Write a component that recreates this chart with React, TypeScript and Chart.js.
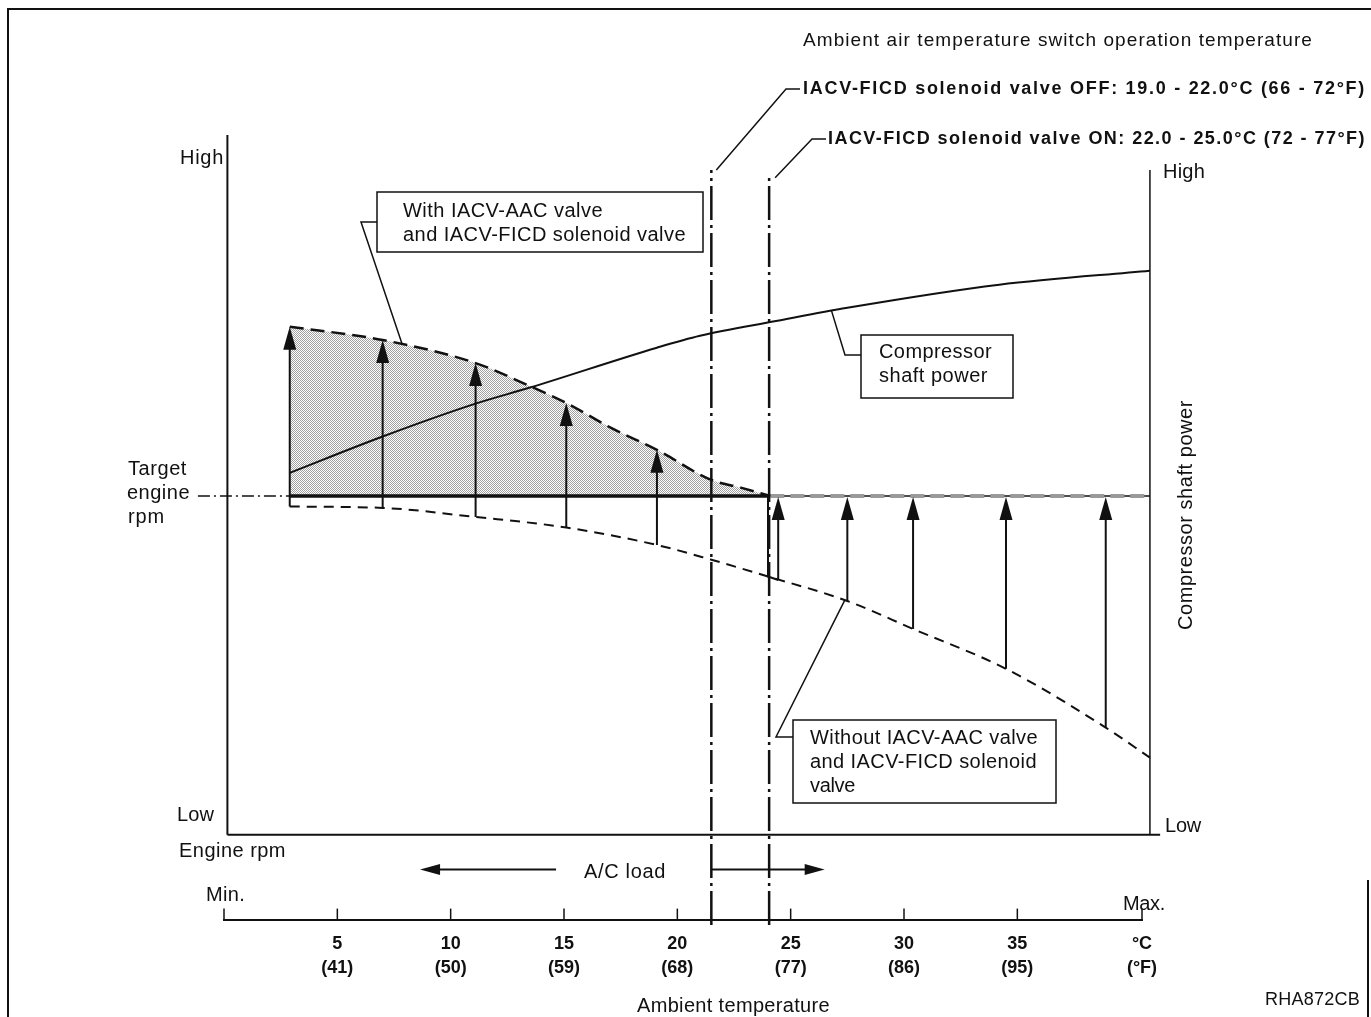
import React, { useEffect, useRef } from "react";
import { Chart, registerables } from "chart.js";

Chart.register(...registerables);

// ---------------- data ----------------
const tempTicks = [0, 5, 10, 15, 20, 25, 30, 35, 40.5];
const celsiusLabels = ["", "5", "10", "15", "20", "25", "30", "35", "°C"];
const fahrenheitLabels = ["", "(41)", "(50)", "(59)", "(68)", "(77)", "(86)", "(95)", "(°F)"];

const rpmLow = 0;
const rpmHigh = 100;
const targetRpm = 48.4;

const withValveTemps = [2.9, 7.0, 11.1, 13.5, 15.1, 17.1, 19.1, 21.5, 22.8, 24.1];
const withValveRpm = [72.6, 70.7, 67.4, 64.1, 61.7, 58.1, 55.0, 50.7, 49.6, 48.4];

const withoutValveTemps = [2.9, 7.0, 11.1, 15.1, 19.1, 21.5, 24.0, 27.5, 30.4, 34.5, 38.9, 40.85];
const withoutValveRpm = [46.9, 46.7, 45.4, 43.9, 41.4, 39.3, 36.9, 33.4, 29.4, 23.7, 15.3, 11.0];

const compressorTemps = [2.9, 7.0, 11.1, 13.5, 19.1, 21.0, 24.35, 27.5, 34.2, 40.85];
const compressorPower = [51.7, 56.9, 61.6, 63.9, 69.6, 71.3, 73.4, 75.3, 78.6, 80.6];

const liftTemps = [2.9, 7.0, 11.1, 15.1, 19.1];
const liftFrom = [46.9, 46.7, 45.4, 43.9, 41.4];
const liftTo = [72.6, 70.7, 67.4, 61.7, 55.0];

const dropTemps = [24.45, 27.5, 30.4, 34.5, 38.9];
const dropFrom = [36.4, 33.4, 29.4, 23.7, 15.3];

const bracketTemps = [24.0, 24.0, 24.45];
const bracketRpm = [48.4, 36.9, 36.4];

const switchOffTemp = 21.5;
const switchOnTemp = 24.05;
const switchLineBottom = -12.9;
const switchOffTop = 95;
const switchOnTop = 93.9;

const leftAxisTemp = 0.15;
const rightAxisTemp = 40.85;
const rightAxisTop = 95;
const baselineEnd = 41.3;
const targetLeadStart = -1.15;

const acLoadRpm = -5;
const acLoadLeft = [14.65, 8.65];
const acLoadRight = [21.5, 26.5];

const yMin = -12.143;
const xMin = 0;
const xMax = 40.5;

const FAMILY = "'Liberation Sans', Arial, Helvetica, sans-serif";
const INK = "#111";

const zip = (xs: number[], ys: number[]) => xs.map((x, i) => ({ x, y: ys[i] }));

function drawArrow(ctx: CanvasRenderingContext2D, x1: number, y1: number, x2: number, y2: number, headLen = 23, headW = 13, lw = 2) {
  const dx = x2 - x1, dy = y2 - y1;
  const len = Math.hypot(dx, dy);
  const ux = dx / len, uy = dy / len;
  const bx = x2 - ux * headLen, by = y2 - uy * headLen;
  ctx.lineWidth = lw;
  ctx.setLineDash([]);
  ctx.beginPath();
  ctx.moveTo(x1, y1);
  ctx.lineTo(bx + ux * 2, by + uy * 2);
  ctx.stroke();
  ctx.beginPath();
  ctx.moveTo(x2, y2);
  ctx.lineTo(bx - uy * headW / 2, by + ux * headW / 2);
  ctx.lineTo(bx + uy * headW / 2, by - ux * headW / 2);
  ctx.closePath();
  ctx.fill();
}

function fitText(ctx: CanvasRenderingContext2D, text: string, left: number, y: number, right: number, size: number, bold = false) {
  ctx.font = `${bold ? "bold " : ""}${size}px ${FAMILY}`;
  (ctx as any).letterSpacing = "0px";
  const m = ctx.measureText(text).width;
  const w = right - left;
  let ls = (w - m) / Math.max(1, text.length);
  ls = Math.max(-1.5, Math.min(3, ls));
  (ctx as any).letterSpacing = `${ls}px`;
  ctx.textAlign = "left";
  ctx.textBaseline = "middle";
  ctx.fillText(text, left, y);
  (ctx as any).letterSpacing = "0px";
}

function polyline(ctx: CanvasRenderingContext2D, pts: number[][], lw = 1.5) {
  ctx.lineWidth = lw;
  ctx.setLineDash([]);
  ctx.beginPath();
  pts.forEach((p, i) => (i === 0 ? ctx.moveTo(p[0], p[1]) : ctx.lineTo(p[0], p[1])));
  ctx.stroke();
}

const decorPlugin = {
  id: "decor",
  afterDraw(chart: any) {
    const ctx: CanvasRenderingContext2D = chart.ctx;
    const xs = chart.scales.x, ys = chart.scales.y;
    const X = (v: number) => xs.getPixelForValue(v);
    const Y = (v: number) => ys.getPixelForValue(v);
    ctx.save();
    ctx.fillStyle = INK;
    ctx.strokeStyle = INK;
    ctx.lineCap = "butt";

    // arrows lifting rpm (with IACV)
    liftTemps.forEach((t, i) => drawArrow(ctx, X(t), Y(liftFrom[i]), X(t), Y(liftTo[i])));
    // arrows (without IACV) up to target
    dropTemps.forEach((t, i) => drawArrow(ctx, X(t), Y(dropFrom[i]), X(t), Y(targetRpm) + 1));

    // A/C load arrows
    drawArrow(ctx, X(acLoadLeft[0]), Y(acLoadRpm), X(acLoadLeft[1]), Y(acLoadRpm), 20, 11, 2);
    drawArrow(ctx, X(acLoadRight[0]), Y(acLoadRpm), X(acLoadRight[1]), Y(acLoadRpm), 20, 11, 2);

    // temperature axis tick marks (upwards)
    const axisY = Y(yMin);
    ctx.lineWidth = 1.5;
    tempTicks.forEach((v) => {
      ctx.beginPath();
      ctx.moveTo(X(v), axisY);
      ctx.lineTo(X(v), axisY - 11);
      ctx.stroke();
    });

    // outer frame
    polyline(ctx, [[8, 1017], [8, 9], [1371, 9]], 2);
    polyline(ctx, [[1368, 880], [1368, 1017]], 2);

    // switch label leaders
    polyline(ctx, [[800, 89], [786, 89], [X(switchOffTemp) + 5, Y(switchOffTop)]], 1.5);
    polyline(ctx, [[826, 139], [812, 139], [X(switchOnTemp) + 6, Y(switchOnTop)]], 1.5);

    // boxes
    ctx.lineWidth = 1.5;
    ctx.strokeRect(377, 192, 326, 60);
    ctx.strokeRect(861, 335, 152, 63);
    ctx.strokeRect(793, 720, 263, 83);
    // box leaders
    polyline(ctx, [[377, 222], [361, 222], [X(7.85), Y(70.2)]], 1.5);
    polyline(ctx, [[861, 355], [845, 355], [X(26.8), Y(74.9)]], 1.5);
    polyline(ctx, [[793, 737], [776, 737], [X(27.4), Y(33.6)]], 1.5);

    // texts
    fitText(ctx, "Ambient air temperature switch operation temperature", 803, 41, 1313, 19);
    fitText(ctx, "IACV-FICD solenoid valve OFF: 19.0 - 22.0°C (66 - 72°F)", 803, 89, 1366, 18, true);
    fitText(ctx, "IACV-FICD solenoid valve ON: 22.0 - 25.0°C (72 - 77°F)", 828, 139, 1366, 18, true);
    fitText(ctx, "High", 180, 158, 224, 20);
    fitText(ctx, "High", 1163, 172, 1205, 20);
    fitText(ctx, "With IACV-AAC valve", 403, 211, 603, 20);
    fitText(ctx, "and IACV-FICD solenoid valve", 403, 235, 686, 20);
    fitText(ctx, "Compressor", 879, 352, 992, 20);
    fitText(ctx, "shaft power", 879, 376, 988, 20);
    fitText(ctx, "Target", 128, 469, 187, 20);
    fitText(ctx, "engine", 127, 493, 190, 20);
    fitText(ctx, "rpm", 128, 517, 165, 20);
    fitText(ctx, "Without IACV-AAC valve", 810, 738, 1038, 20);
    fitText(ctx, "and IACV-FICD solenoid", 810, 762, 1037, 20);
    fitText(ctx, "valve", 810, 786, 855, 20);
    fitText(ctx, "Low", 177, 815, 214, 20);
    fitText(ctx, "Low", 1165, 826, 1201, 20);
    fitText(ctx, "Engine rpm", 179, 851, 286, 20);
    fitText(ctx, "A/C load", 584, 872, 666, 20);
    fitText(ctx, "Min.", 206, 895, 245, 20);
    fitText(ctx, "Max.", 1123, 904, 1165, 20);
    fitText(ctx, "Ambient temperature", 637, 1006, 830, 20);
    fitText(ctx, "RHA872CB", 1265, 1000, 1360, 18);

    ctx.save();
    ctx.translate(1186, 515);
    ctx.rotate(-Math.PI / 2);
    fitText(ctx, "Compressor shaft power", -115, 0, 115, 20);
    ctx.restore();

    ctx.restore();
  },
};

export default function App() {
  const ref = useRef<HTMLCanvasElement>(null);

  useEffect(() => {
    document.body.style.margin = "0";
    const canvas = ref.current!;
    const pc = document.createElement("canvas");
    pc.width = 2;
    pc.height = 2;
    const pctx = pc.getContext("2d")!;
    pctx.fillStyle = "#ffffff";
    pctx.fillRect(0, 0, 2, 2);
    pctx.fillStyle = "#a0a0a0";
    pctx.fillRect(0, 0, 1, 1);
    pctx.fillRect(1, 1, 1, 1);
    const pattern = canvas.getContext("2d")!.createPattern(pc, "repeat");

    const base = { pointRadius: 0, borderColor: INK, borderWidth: 2, fill: false, clip: false as any, tension: 0 };

    const chart = new Chart(canvas, {
      type: "line",
      data: {
        datasets: [
          {
            ...base,
            label: "With IACV-AAC valve and IACV-FICD solenoid valve",
            data: zip(withValveTemps, withValveRpm),
            borderWidth: 2.5,
            borderDash: [14, 7],
            cubicInterpolationMode: "monotone",
            fill: { value: targetRpm },
            backgroundColor: pattern as any,
          },
          {
            ...base,
            label: "Without IACV-AAC valve and IACV-FICD solenoid valve",
            data: zip(withoutValveTemps, withoutValveRpm),
            borderWidth: 2,
            borderDash: [10, 7],
            cubicInterpolationMode: "monotone",
          },
          {
            ...base,
            label: "Compressor shaft power",
            data: zip(compressorTemps, compressorPower),
            borderWidth: 2,
            cubicInterpolationMode: "monotone",
          },
          {
            ...base,
            label: "Target engine rpm",
            data: zip([withValveTemps[0], withValveTemps[withValveTemps.length - 1]], [targetRpm, targetRpm]),
            borderWidth: 3.5,
          },
          {
            ...base,
            label: "Target (right, shade)",
            data: zip([withValveTemps[withValveTemps.length - 1], rightAxisTemp], [targetRpm, targetRpm]),
            borderWidth: 4,
            borderColor: "#9a9a9a",
            borderDash: [14, 6],
          },
          {
            ...base,
            label: "Target (right)",
            data: zip([withValveTemps[withValveTemps.length - 1], rightAxisTemp], [targetRpm, targetRpm]),
            borderWidth: 1.5,
          },
          {
            ...base,
            label: "Target lead",
            data: zip([targetLeadStart, withValveTemps[0]], [targetRpm, targetRpm]),
            borderWidth: 1.5,
            borderDash: [12, 4, 2, 4],
          },
          {
            ...base,
            label: "Switch OFF",
            data: zip([switchOffTemp, switchOffTemp], [switchLineBottom, switchOffTop]),
            borderWidth: 2.5,
            borderDash: [34, 5, 3, 5],
          },
          {
            ...base,
            label: "Switch ON",
            data: zip([switchOnTemp, switchOnTemp], [switchLineBottom, switchOnTop]),
            borderWidth: 2.5,
            borderDash: [34, 5, 3, 5],
          },
          {
            ...base,
            label: "Engine rpm axis",
            data: zip([leftAxisTemp, leftAxisTemp], [rpmLow, rpmHigh]),
            borderWidth: 2,
          },
          {
            ...base,
            label: "Compressor power axis",
            data: zip([rightAxisTemp, rightAxisTemp], [rpmLow, rightAxisTop]),
            borderWidth: 1.5,
          },
          {
            ...base,
            label: "Baseline",
            data: zip([leftAxisTemp, baselineEnd], [rpmLow, rpmLow]),
            borderWidth: 2,
          },
          {
            ...base,
            label: "Bracket",
            data: zip(bracketTemps, bracketRpm),
            borderWidth: 2,
          },
        ],
      },
      options: {
        responsive: false,
        animation: false,
        devicePixelRatio: 1,
        events: [],
        layout: { padding: { left: 224, right: 229, top: 135, bottom: 25.4 } },
        plugins: {
          legend: { display: false },
          tooltip: { enabled: false },
          filler: { drawTime: "beforeDatasetsDraw" },
        },
        scales: {
          x: {
            type: "linear",
            position: "bottom",
            min: xMin,
            max: xMax,
            afterBuildTicks: (s: any) => {
              s.ticks = tempTicks.map((v) => ({ value: v }));
            },
            ticks: {
              autoSkip: false,
              maxRotation: 0,
              minRotation: 0,
              padding: 12,
              color: INK,
              font: { family: FAMILY, size: 18, weight: "bold", lineHeight: 24 / 18 },
              callback: (v: any) => {
                const i = tempTicks.indexOf(Number(v));
                return i < 0 ? "" : [celsiusLabels[i], fahrenheitLabels[i]];
              },
            },
            grid: { display: true, drawOnChartArea: false, drawTicks: false },
            border: { display: true, color: INK, width: 2 },
          },
          y: { type: "linear", display: false, min: yMin, max: rpmHigh },
        },
      } as any,
      plugins: [decorPlugin],
    });
    return () => chart.destroy();
  }, []);

  return (
    <canvas
      ref={ref}
      width={1371}
      height={1017}
      style={{ display: "block", position: "absolute", left: 0, top: 0 }}
    />
  );
}
